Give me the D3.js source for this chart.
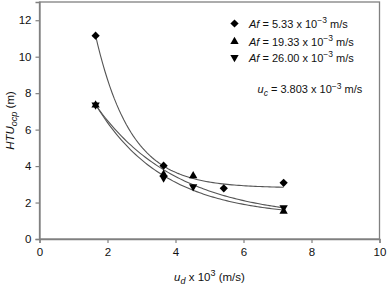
<!DOCTYPE html>
<html><head><meta charset="utf-8">
<script src="https://cdn.jsdelivr.net/npm/d3@7"></script>
<style>
html,body{margin:0;padding:0;background:#fff;}
svg{display:block;font-family:"Liberation Sans",Arial,sans-serif;}
</style></head>
<body><svg id="c" width="387" height="288"></svg>
<script>
// ---- data ----
const xTicks = [0, 2, 4, 6, 8, 10];
const yTicks = [0, 2, 4, 6, 8, 10, 12];
const seriesNames = ["5.33", "19.33", "26.00"];
const xDiamond = [1.65, 3.65, 5.42, 7.18];
const yDiamond = [11.15, 4.02, 2.78, 3.08];
const xUp = [1.65, 3.65, 4.52, 7.18];
const yUp = [7.35, 3.55, 3.47, 1.52];
const xDown = [1.65, 3.65, 4.52, 7.18];
const yDown = [7.35, 3.35, 2.87, 1.72];
// exponential decay fits y = a + b*exp(-c*x)
const fitDiamond = [2.8, 41.4, 0.97];
const fitUp = [1.1, 12.5, 0.42];
const fitDown = [1.2, 14.1, 0.5];
const fitRange = [1.65, 7.18];

const svg = d3.select("#c");
const L = 39.5, R = 379.5, T = 2, B = 239;
const x = d3.scaleLinear().domain([0, 10]).range([L, R]);
const y = d3.scaleLinear().domain([0, 13]).range([B, T]);

// frame
svg.append("rect").attr("x", L).attr("y", T).attr("width", R - L).attr("height", B - T)
  .attr("fill", "none").attr("stroke", "#808080").attr("stroke-width", 1.3);

const xAxis = svg.append("g").attr("transform", `translate(0,${B})`)
  .call(d3.axisBottom(x).tickValues(xTicks).tickSize(4).tickPadding(5).tickFormat(d3.format("d")));
const yAxis = svg.append("g").attr("transform", `translate(${L},0)`)
  .call(d3.axisLeft(y).tickValues(yTicks).tickSize(4).tickPadding(4).tickFormat(d3.format("d")));
[xAxis, yAxis].forEach(g => {
  g.select(".domain").attr("stroke", "#808080").attr("stroke-width", 1.3);
  g.selectAll(".tick line").attr("stroke", "#808080").attr("stroke-width", 1.2);
  g.selectAll("text").attr("font-size", 11.5).attr("fill", "#111").attr("font-family", "Liberation Sans, Arial, sans-serif");
});

// fit curves
function fitPts(p) {
  const n = 80, pts = [];
  for (let i = 0; i <= n; i++) {
    const xv = fitRange[0] + (fitRange[1] - fitRange[0]) * i / n;
    pts.push([xv, p[0] + p[1] * Math.exp(-p[2] * xv)]);
  }
  return pts;
}
const line = d3.line().x(d => x(d[0])).y(d => y(d[1])).curve(d3.curveLinear);
[fitDiamond, fitUp, fitDown].forEach(p => {
  svg.append("path").attr("d", line(fitPts(p))).attr("fill", "none")
    .attr("stroke", "#555").attr("stroke-width", 1.1);
});

// markers
const symD = d3.symbol().type(d3.symbolSquare).size(34);
const symT = d3.symbol().type(d3.symbolTriangle).size(30);
function plot(xs, ys, sym, rot) {
  svg.append("g").selectAll("path").data(xs.map((v, i) => [v, ys[i]])).join("path")
    .attr("d", sym)
    .attr("transform", d => `translate(${x(d[0])},${y(d[1])}) rotate(${rot})`)
    .attr("fill", "#000");
}
plot(xDiamond, yDiamond, symD, 45);
plot(xUp, yUp, symT, 0);
plot(xDown, yDown, symT, 180);

// legend
const legY = [23.5, 41.5, 57.5];
const legSym = [[symD, 45], [symT, 0], [symT, 180]];
seriesNames.forEach((nm, i) => {
  svg.append("path").attr("d", legSym[i][0])
    .attr("transform", `translate(234.5,${legY[i]}) rotate(${legSym[i][1]})`).attr("fill", "#000");
  const t = svg.append("text").attr("x", 249).attr("y", legY[i] + 4).attr("font-size", 11).attr("fill", "#111");
  t.append("tspan").attr("font-style", "italic").text("Af");
  t.append("tspan").text(` = ${nm} x 10`);
  t.append("tspan").attr("dy", -4.5).attr("font-size", 8.5).text("−3");
  t.append("tspan").attr("dy", 4.5).text(" m/s");
});
const uc = svg.append("text").attr("x", 257.5).attr("y", 93).attr("font-size", 11).attr("fill", "#111");
uc.append("tspan").attr("font-style", "italic").text("u");
uc.append("tspan").attr("font-style", "italic").attr("font-size", 8.5).attr("dy", 3).text("c");
uc.append("tspan").attr("dy", -3).text(" = 3.803 x 10");
uc.append("tspan").attr("dy", -4.5).attr("font-size", 8.5).text("−3");
uc.append("tspan").attr("dy", 4.5).text(" m/s");

// axis titles
const xt = svg.append("text").attr("x", 209.5).attr("y", 281).attr("text-anchor", "middle")
  .attr("font-size", 11.5).attr("fill", "#111");
xt.append("tspan").attr("font-style", "italic").text("u");
xt.append("tspan").attr("font-style", "italic").attr("font-size", 9).attr("dy", 3).text("d");
xt.append("tspan").attr("dy", -3).text(" x 10");
xt.append("tspan").attr("dy", -5).attr("font-size", 9).text("3");
xt.append("tspan").attr("dy", 5).text(" (m/s)");

const yt = svg.append("text").attr("transform", "translate(14,120.5) rotate(-90)")
  .attr("text-anchor", "middle").attr("font-size", 11.5).attr("fill", "#111");
yt.append("tspan").attr("font-style", "italic").text("HTU");
yt.append("tspan").attr("font-style", "italic").attr("font-size", 9).attr("dy", 3).text("ocp");
yt.append("tspan").attr("dy", -3).text(" (m)");
</script></body></html>
